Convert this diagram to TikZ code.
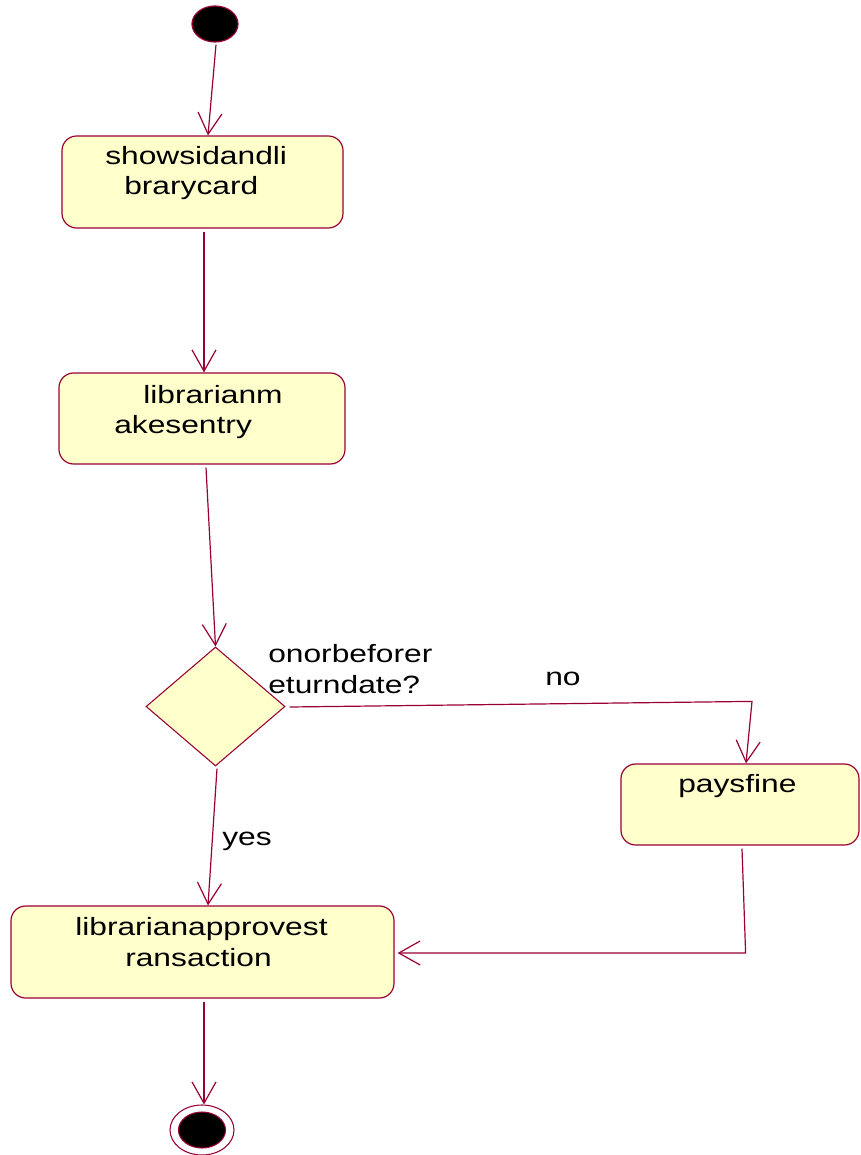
\documentclass[tikz,border=0pt]{standalone}
\usepackage{fontspec}
\setmainfont{Liberation Sans}[FakeStretch=1.27]
\usetikzlibrary{arrows.meta,shapes.geometric,calc}
\definecolor{umlline}{HTML}{990033}
\definecolor{umlfill}{HTML}{FFFFCC}

\begin{document}
\begin{tikzpicture}[x=0.75pt,y=-0.75pt,
  flow/.style={draw=umlline, line width=0.9pt,
    -{Straight Barb[length=16pt,width=18pt,line width=0.9pt]}},
  activity/.style={draw=umlline, fill=umlfill, rounded corners=11pt,
    line width=0.9pt, inner sep=0pt},
  decision/.style={diamond, draw=umlline, fill=umlfill, line width=0.8pt,
    inner sep=0pt, minimum width=104.25pt, minimum height=89.25pt},
  lbl/.style={anchor=base west, inner sep=0pt,
    font=\fontsize{18.75pt}{22.5pt}\selectfont}]
\useasboundingbox (0,0) rectangle (860,1155);

% initial and final states
\node[ellipse, draw=umlline, fill=black, line width=0.9pt, inner sep=0pt,
  minimum width=34.5pt, minimum height=27pt] (start) at (215,24) {};
\node[ellipse, draw=umlline, fill=white, line width=0.8pt, inner sep=0pt,
  minimum width=48pt, minimum height=37.5pt] (final) at (202,1130) {};
\node[ellipse, draw=umlline, fill=black, line width=0.8pt, inner sep=0pt,
  minimum width=35.25pt, minimum height=27pt] (finaldot) at (202,1130) {};

% activities
\node[activity, minimum width=210.75pt, minimum height=69pt] (show) at (202.5,182) {};
\node[activity, minimum width=214.5pt, minimum height=68.25pt] (entry) at (202,418.5) {};
\node[decision] (check) at (215.5,706.5) {};
\node[activity, minimum width=178.5pt, minimum height=60.75pt] (fine) at (740,804.5) {};
\node[activity, minimum width=287.25pt, minimum height=69pt] (approve) at (202.5,952) {};

% activity texts
\node[lbl] (showA) at (105,165) {showsidandli};
\node[lbl] (showB) at (124,195) {brarycard};
\node[lbl] (entryA) at (143,403) {librarianm};
\node[lbl] (entryB) at (114,433) {akesentry};
\node[lbl] (checkA) at (268,662) {onorbeforer};
\node[lbl] (checkB) at (268,693) {eturndate?};
\node[lbl] (fineA) at (678,792) {paysfine};
\node[lbl] (approveA) at (75,935) {librarianapprovest};
\node[lbl] (approveB) at (125,966) {ransaction};

% transitions
\draw[flow] ($(start.south)+(1,2)$) -- ($(show.north)+(5.5,0)$);
\draw[flow] ($(show.south)+(1.5,3)$) -- ($(entry.north)+(2,0)$);
\draw[flow] ($(entry.south)+(4,3)$) -- (check.north);
\draw[flow] ($(check.east)+(4,0.5)$) -- ($(fine.north)+(12,-62)$)
  -- ($(fine.north)+(6,0)$);
\node[lbl] (nolbl) at (545,685) {no};
\draw[flow] ($(check.south)+(1.5,2)$) -- ($(approve.north)+(5.5,0)$);
\node[lbl] (yeslbl) at (222,845) {yes};
\draw[flow] ($(fine.south)+(2,3)$) -- ($(approve.east)+(351,1)$)
  -- ($(approve.east)+(3,1)$);
\draw[flow] ($(approve.south)+(1.5,3)$) -- ($(final.north)+(2,0)$);
\end{tikzpicture}
\end{document}
